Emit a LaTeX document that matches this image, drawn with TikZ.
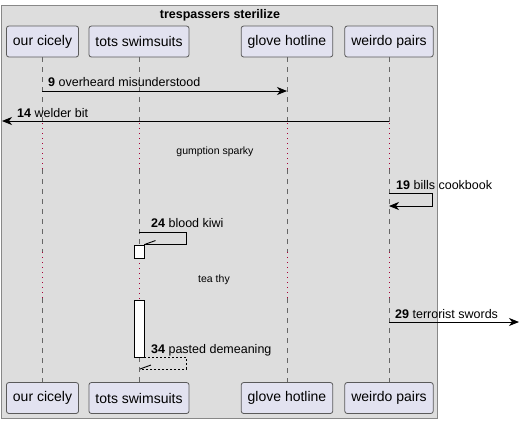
\documentclass[tikz,border=0pt]{standalone}
\usepackage{fontspec}
\setmainfont{Liberation Sans}
\usetikzlibrary{arrows.meta,positioning}
\definecolor{framebg}{HTML}{DDDDDD}
\definecolor{frameline}{HTML}{888888}
\definecolor{partbg}{HTML}{E2E2F0}
\definecolor{partline}{HTML}{5A5A5A}
\definecolor{lifeline}{HTML}{666666}
\definecolor{delayred}{HTML}{A80036}

\begin{document}
\begin{tikzpicture}[x=1pt,y=-1pt,
  part/.style={draw=partline,fill=partbg,rounded corners=2.5pt,line width=.8pt,
    minimum height=31pt,inner xsep=6.5pt,font=\fontsize{14}{16}\selectfont},
  lbl/.style={anchor=base west,inner sep=0pt,font=\fontsize{12.5}{14}\selectfont},
  note/.style={inner sep=0pt,font=\fontsize{10.5}{12}\selectfont},
  life/.style={lifeline,line width=.8pt,dash pattern=on 5pt off 5pt},
  gap/.style={delayred,line width=.9pt,dash pattern=on 1pt off 4pt},
  msg/.style={-{Stealth[length=10pt,width=8pt,inset=3pt]},line width=.9pt},
  half/.style={line width=.9pt},
  act/.style={draw,fill=white,line width=.9pt,minimum width=10pt,inner sep=0pt}]
\useasboundingbox (0,0) rectangle (520,424);
\draw[frameline,fill=framebg,line width=1.2pt] (1.5,5.5) rectangle (437.5,418.5);
\node[font=\bfseries\fontsize{12.5}{14}\selectfont] (title) at (220,15) {trespassers sterilize};
% participants
\node[part] (ourtop) at (42.5,41.5) {our cicely};
\node[part] (totstop) at (139,41.5) {tots swimsuits};
\node[part] (glovetop) at (287,41.5) {glove hotline};
\node[part] (weirdotop) at (389,41.5) {weirdo pairs};
\node[part] (ourbot) at (42.5,398) {our cicely};
\node[part] (totsbot) at (139,398) {tots swimsuits};
\node[part] (glovebot) at (287,398) {glove hotline};
\node[part] (weirdobot) at (389,398) {weirdo pairs};
% lifelines
\foreach \p in {our,glove,weirdo}{
  \draw[life] (\p top.south) -- (\p top.south |- 0,123);
  \draw[gap] (\p top.south |- 0,123) -- (\p top.south |- 0,169);
  \draw[life] (\p top.south |- 0,169) -- (\p top.south |- 0,252);
  \draw[gap] (\p top.south |- 0,252) -- (\p top.south |- 0,298);
  \draw[life] (\p top.south |- 0,298) -- (\p bot.north);
}
\draw[life] (totstop.south) -- (totstop.south |- 0,123);
\draw[gap] (totstop.south |- 0,123) -- (totstop.south |- 0,169);
\draw[life] (totstop.south |- 0,169) -- (totstop.south |- 0,245);
\draw[gap] (totstop.south |- 0,258) -- (totstop.south |- 0,300);
\draw[life] (totstop.south |- 0,357) -- (totsbot.north);
% messages
\coordinate (m9a) at (42,91);
\coordinate (m9b) at (287,91);
\draw[msg] (m9a) -- (m9b);
\node[lbl] (l9) at (48,86) {\textbf{9} overheard misunderstood};
\coordinate (m14a) at (389,121);
\coordinate (m14b) at (2,121);
\draw[msg] (m14a) -- (m14b);
\node[lbl] (l14) at (17,117) {\textbf{14} welder bit};
\node[note] (d1) at (215,152) {gumption sparky};
\coordinate (m19a) at (389,193);
\coordinate (m19b) at (389,206);
\draw[msg] (m19a) -- ++(43,0) |- (m19b);
\node[lbl] (l19) at (396,189) {\textbf{19} bills cookbook};
\node[act,minimum height=13pt] (act1) at (139,251.5) {};
\coordinate (m24a) at (139,232);
\coordinate (m24b) at (act1.north east);
\draw[half] (m24a) -- ++(47,0) |- (m24b);
\draw[half] (m24b) -- ++(11,-4);
\node[lbl] (l24) at (151,227) {\textbf{24} blood kiwi};
\node[note] (d2) at (214,280) {tea thy};
\node[act,minimum height=57pt] (act2) at (139,328.5) {};
\coordinate (m29a) at (389,322);
\coordinate (m29b) at (519,322);
\draw[msg] (m29a) -- (m29b);
\node[lbl] (l29) at (395,318) {\textbf{29} terrorist swords};
\coordinate (m34b) at (140,369);
\draw[half,dash pattern=on 2pt off 2pt] (act2.south east) -- ++(42,0) |- (m34b);
\draw[half] (m34b) -- ++(11,-4);
\node[lbl] (l34) at (151,353) {\textbf{34} pasted demeaning};
\end{tikzpicture}
\end{document}
